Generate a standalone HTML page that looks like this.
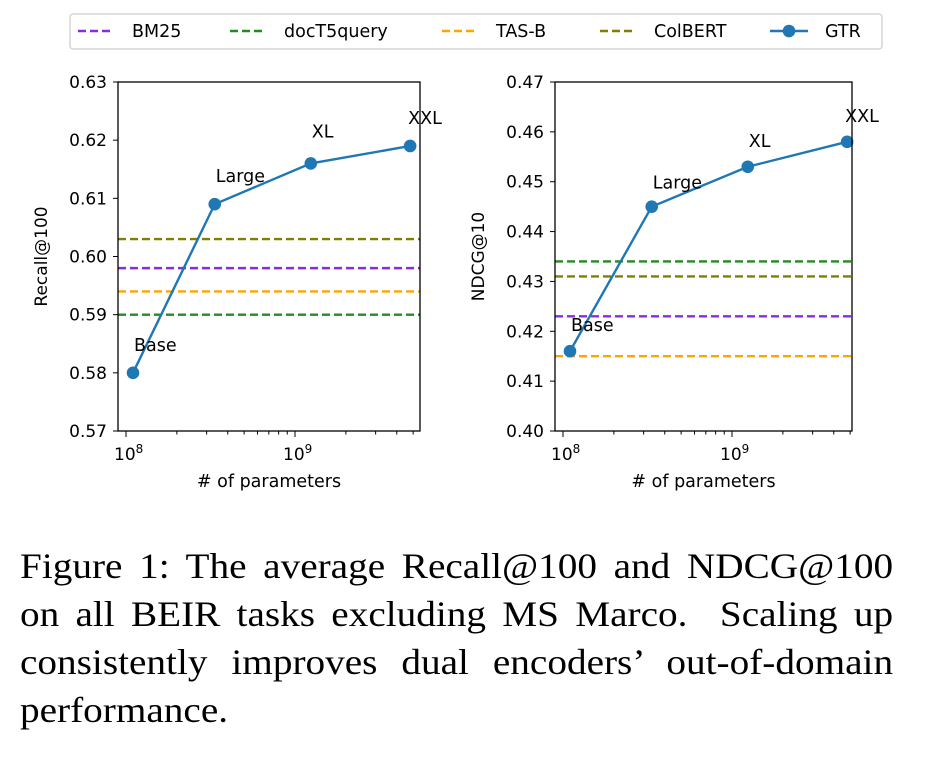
<!DOCTYPE html>
<html><head><meta charset="utf-8"><style>
body{margin:0;background:#fff;width:930px;height:762px;overflow:hidden}
svg{position:absolute;left:0;top:0}
.cap{position:absolute;left:20px;top:542px;width:801px;font-family:"Liberation Serif",serif;font-size:36px;line-height:48px;color:#000;transform:scaleX(1.09);transform-origin:0 0}
.cap div{text-align:justify;text-align-last:justify;white-space:nowrap}
.cap div.last{text-align-last:left}
</style></head><body>
<svg id="fig" width="930" height="540" font-family="DejaVu Sans, Liberation Sans, sans-serif"></svg>
<div class="cap">
<div>Figure 1: The average Recall@100 and NDCG@100</div>
<div>on all BEIR tasks excluding MS Marco. &nbsp;Scaling up</div>
<div>consistently improves dual encoders’ out-of-domain</div>
<div class="last">performance.</div>
</div>
<script>
const sizes=["Base","Large","XL","XXL"];
const params=[1.1e8,3.35e8,1.24e9,4.8e9];
const recall=[0.580,0.609,0.616,0.619];
const ndcg=[0.416,0.445,0.453,0.458];
const baselineNames=["BM25","docT5query","TAS-B","ColBERT"];
const baselineColors=["#8a2be2","#228b22","#ffa500","#808000"];
const recallBase=[0.598,0.590,0.594,0.603];
const ndcgBase=[0.423,0.434,0.415,0.431];
const recallTicks=[0.57,0.58,0.59,0.60,0.61,0.62,0.63];
const ndcgTicks=[0.40,0.41,0.42,0.43,0.44,0.45,0.46,0.47];
const NS="http://www.w3.org/2000/svg";
const svg=document.getElementById('fig');
function mk(t,a,p){const e=document.createElementNS(NS,t);for(const k in a)e.setAttribute(k,a[k]);(p||svg).appendChild(e);return e;}
function panel(name,x0,x1,ymin,ymax,ticks,vals,base,ylabel,labOff){
 const y0=82,y1=431,d8=x0+8,dec=169;
 const X=v=>d8+(Math.log10(v)-8)*dec;
 const Y=v=>y1-(v-ymin)/(ymax-ymin)*(y1-y0);
 const g=mk('g',{});
 
 
 base.forEach((b,i)=>{const l=mk('line',{x1:x0,x2:x1,y1:Y(b),y2:Y(b),stroke:baselineColors[i],'stroke-width':2.4,'stroke-dasharray':'8,4'},g);
  
  });
 const pts=vals.map((v,i)=>X(params[i])+','+Y(v)).join(' ');
 const pl=mk('polyline',{points:pts,fill:'none',stroke:'#1f77b4','stroke-width':2.4},g);
 
 
 vals.forEach((v,i)=>{const c=mk('circle',{cx:X(params[i]),cy:Y(v),r:6.3,fill:'#1f77b4'},g);
  
  
  const t=mk('text',{x:X(params[i])+(i==3?-2:1),y:Y(v)-labOff[i],'font-size':17.5},g);t.textContent=sizes[i];
  
  });
 mk('rect',{x:x0,y:y0,width:x1-x0,height:y1-y0,fill:'none',stroke:'#000','stroke-width':1.3},g);
 ticks.forEach(t=>{mk('line',{x1:x0-5,x2:x0,y1:Y(t),y2:Y(t),stroke:'#000'},g);
  const tx=mk('text',{x:x0-11,y:Y(t)+6,'font-size':17,'text-anchor':'end'},g);tx.textContent=t.toFixed(2);
  
  });
 for(let e=8;e<=9;e++)for(let m=1;m<10;m++){const v=m*Math.pow(10,e);const x=X(v);if(x>x1)break;
  mk('line',{x1:x,x2:x,y1:y1,y2:y1+(m==1?6:3.5),stroke:'#000'},g);
  if(m==1){const tx=mk('text',{x:x-12,y:y1+29,'font-size':17},g);tx.innerHTML='10<tspan dy="-7" font-size="12">'+e+'</tspan>';
   
   }}
 const xl=mk('text',{x:(x0+x1)/2,y:487,'font-size':17.5,'text-anchor':'middle'},g);xl.textContent='# of parameters';
 
 
 const yl=mk('text',{x:0,y:0,'font-size':17,'text-anchor':'middle',transform:`translate(${x0-71},${(y0+y1)/2}) rotate(-90)`},g);yl.textContent=ylabel;
 
 
}
panel('recall-chart',118,420,0.57,0.63,recallTicks,recall,recallBase,'Recall@100',[22,22,26,22]);
panel('ndcg-chart',555,852,0.40,0.47,ndcgTicks,ndcg,ndcgBase,'NDCG@10',[20,18,20,20]);
const lg=mk('g',{});


mk('rect',{x:70,y:14,width:812,height:35,rx:3,fill:'#fff',stroke:'#ccc','stroke-width':1.2},lg);
const lx=[78,230,442,600,770];
const names=baselineNames.concat(['GTR']);
names.forEach((n,i)=>{const e=mk('g',{},lg);
 
 
 if(i<4)mk('line',{x1:lx[i],x2:lx[i]+32,y1:31,y2:31,stroke:baselineColors[i],'stroke-width':2.4,'stroke-dasharray':'8,4'},e);
 else{mk('line',{x1:lx[i],x2:lx[i]+38,y1:31,y2:31,stroke:'#1f77b4','stroke-width':2.4},e);mk('circle',{cx:lx[i]+19,cy:31,r:6.3,fill:'#1f77b4'},e);}
 const t=mk('text',{x:lx[i]+(i<4?54:55),y:37,'font-size':17.5},e);t.textContent=n;});
</script>
</body></html>
